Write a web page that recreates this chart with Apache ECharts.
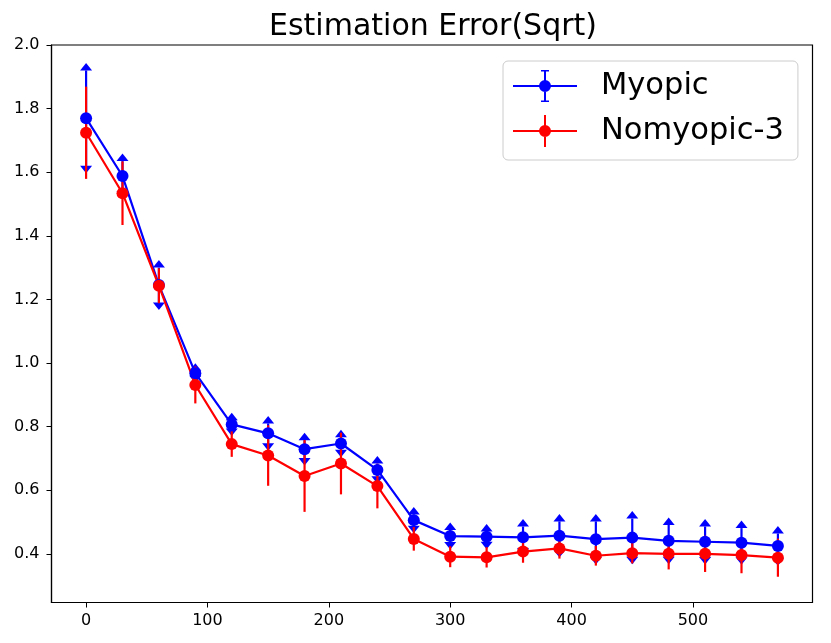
<!DOCTYPE html>
<html>
<head>
<meta charset="utf-8">
<script src="https://cdn.jsdelivr.net/npm/echarts@6/dist/echarts.min.js"></script>
<style>
html,body{margin:0;padding:0;background:#fff;}
#chart{width:831px;height:643px;}
</style>
</head>
<body>
<div id="chart"></div>
<script>
// ---- data ----
const steps = [0, 30, 60, 90, 120, 150, 180, 210, 240, 270, 300, 330, 360, 390, 420, 450, 480, 510, 540, 570];
const myopic = [1.770, 1.588, 1.245, 0.968, 0.807, 0.779, 0.729, 0.747, 0.664, 0.506, 0.456, 0.454, 0.452, 0.457, 0.446, 0.451, 0.441, 0.438, 0.435, 0.425];
const myopicErr = [0.150, 0.047, 0.055, 0.008, 0.013, 0.031, 0.028, 0.020, 0.020, 0.018, 0.019, 0.016, 0.034, 0.045, 0.056, 0.060, 0.050, 0.048, 0.046, 0.039];
const nomyopic = [1.724, 1.534, 1.243, 0.931, 0.745, 0.709, 0.645, 0.684, 0.613, 0.447, 0.391, 0.389, 0.407, 0.417, 0.394, 0.402, 0.400, 0.400, 0.396, 0.388];
const nomyopicErr = [0.145, 0.100, 0.055, 0.058, 0.040, 0.095, 0.113, 0.097, 0.070, 0.037, 0.033, 0.032, 0.035, 0.032, 0.031, 0.032, 0.049, 0.057, 0.057, 0.060];
const xTicks = [0, 100, 200, 300, 400, 500];
const yTicks = [0.4, 0.6, 0.8, 1.0, 1.2, 1.4, 1.6, 1.8, 2.0];
const seriesNames = ['Myopic', 'Nomyopic-3'];
const titleText = 'Estimation Error(Sqrt)';

const BLUE = '#0000ff', RED = '#ff0000';
const FONT = 'DejaVu Sans';

function errData(vals, errs) {
  return steps.map((s, i) => [s, vals[i], errs[i]]);
}
function lineData(vals) {
  return steps.map((s, i) => [s, vals[i]]);
}
function makeErrRender(color, arrows) {
  return function (params, api) {
    const x = api.value(0), y = api.value(1), e = api.value(2);
    const top = api.coord([x, y + e]);
    const bot = api.coord([x, y - e]);
    const children = [{
      type: 'line',
      shape: { x1: top[0], y1: top[1], x2: bot[0], y2: bot[1] },
      style: { stroke: color, lineWidth: 2.2 }
    }];
    if (arrows) {
      children.push({
        type: 'polygon',
        shape: { points: [[top[0] - 6, top[1]], [top[0] + 6, top[1]], [top[0], top[1] - 7.5]] },
        style: { fill: color }
      });
      children.push({
        type: 'polygon',
        shape: { points: [[bot[0] - 6, bot[1]], [bot[0] + 6, bot[1]], [bot[0], bot[1] + 7.5]] },
        style: { fill: color }
      });
    }
    return { type: 'group', children: children };
  };
}

const iconMyopic = 'path://M0,15 L64,15 L64,17 L0,17 Z M31,1 L33,1 L33,31 L31,31 Z M28,0 L36,0 L36,1.6 L28,1.6 Z M28,30.4 L36,30.4 L36,32 L28,32 Z M32,10 A6,6 0 1,1 32,22 A6,6 0 1,1 32,10 Z';
const iconNomyopic = 'path://M0,15 L64,15 L64,17 L0,17 Z M31,0 L33,0 L33,32 L31,32 Z M32,10 A6,6 0 1,1 32,22 A6,6 0 1,1 32,10 Z';

const chart = echarts.init(document.getElementById('chart'), null, { renderer: 'canvas' });
chart.setOption({
  animation: false,
  backgroundColor: '#ffffff',
  textStyle: { fontFamily: FONT },
  title: {
    text: titleText,
    left: 264,
    top: 7,
    textStyle: { fontFamily: FONT, fontSize: 30, fontWeight: 'normal', color: '#000' }
  },
  legend: {
    orient: 'vertical',
    left: 503,
    top: 61,
    padding: [9, 14, 13, 10],
    itemGap: 13,
    itemWidth: 64,
    itemHeight: 32,
    borderColor: '#cccccc',
    borderWidth: 1,
    borderRadius: 5,
    backgroundColor: 'rgba(255,255,255,0.8)',
    textStyle: { fontFamily: FONT, fontSize: 30.5, color: '#000', padding: [0, 0, 0, 19], lineHeight: 32 },
    data: [
      { name: seriesNames[0], icon: iconMyopic },
      { name: seriesNames[1], icon: iconNomyopic }
    ]
  },
  grid: {
    left: 51.5,
    top: 45,
    right: 18.5,
    bottom: 40.5,
    show: true,
    borderColor: '#000',
    borderWidth: 1.2,
    containLabel: false
  },
  xAxis: {
    type: 'value',
    min: -28.5,
    max: 598.5,
    splitLine: { show: false },
    axisLine: { show: true, onZero: false, lineStyle: { color: '#000', width: 1.2 } },
    axisTick: { show: true, inside: false, length: 5, customValues: xTicks, lineStyle: { color: '#000', width: 1 } },
    axisLabel: { customValues: xTicks, margin: 10, fontSize: 16, color: '#000', fontFamily: FONT }
  },
  yAxis: {
    type: 'value',
    min: 0.247,
    max: 2.0,
    splitLine: { show: false },
    axisLine: { show: true, onZero: false, lineStyle: { color: '#000', width: 1.2 } },
    axisTick: { show: true, inside: false, length: 5, customValues: yTicks, lineStyle: { color: '#000', width: 1 } },
    axisLabel: { customValues: yTicks, margin: 12, fontSize: 16, color: '#000', fontFamily: FONT,
      formatter: v => v.toFixed(1) }
  },
  series: [
    {
      name: 'Myopic-err',
      type: 'custom',
      renderItem: makeErrRender(BLUE, true),
      encode: { x: 0, y: 1 },
      data: errData(myopic, myopicErr),
      silent: true
    },
    {
      name: 'Nomyopic-3-err',
      type: 'custom',
      renderItem: makeErrRender(RED, false),
      encode: { x: 0, y: 1 },
      data: errData(nomyopic, nomyopicErr),
      silent: true
    },
    {
      name: seriesNames[0],
      type: 'line',
      data: lineData(myopic),
      symbol: 'circle',
      symbolSize: 12,
      showSymbol: true,
      itemStyle: { color: BLUE },
      lineStyle: { color: BLUE, width: 2.2 }
    },
    {
      name: seriesNames[1],
      type: 'line',
      data: lineData(nomyopic),
      symbol: 'circle',
      symbolSize: 12,
      showSymbol: true,
      itemStyle: { color: RED },
      lineStyle: { color: RED, width: 2.2 }
    }
  ]
});
</script>
</body>
</html>
